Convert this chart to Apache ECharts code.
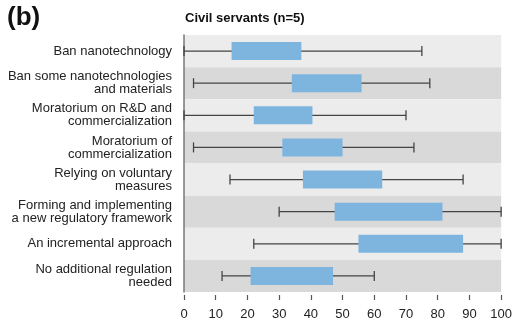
<!DOCTYPE html>
<html>
<head>
<meta charset="utf-8">
<script src="https://cdn.jsdelivr.net/npm/echarts@6/dist/echarts.min.js"></script>
<style>html,body{margin:0;padding:0;background:#fff}#c{width:515px;height:325px}</style>
</head>
<body>
<div id="c"></div>
<script>
var categories = [
  "Ban nanotechnology",
  "Ban some nanotechnologies\nand materials",
  "Moratorium on R&D and\ncommercialization",
  "Moratorium of\ncommercialization",
  "Relying on voluntary\nmeasures",
  "Forming and implementing\na new regulatory framework",
  "An incremental approach",
  "No additional regulation\nneeded"
];
var minValues = [0, 3, 0, 3, 14.5, 30, 22, 12];
var q1Values  = [15, 34, 22, 31, 37.5, 47.5, 55, 21];
var q3Values  = [37, 56, 40.5, 50, 62.5, 81.5, 88, 47];
var maxValues = [75, 77.5, 70, 72.5, 88, 100, 100, 60];
var xTicks = [0, 10, 20, 30, 40, 50, 60, 70, 80, 90, 100];

var data = categories.map(function (c, i) {
  return [i, minValues[i], q1Values[i], q3Values[i], maxValues[i]];
});

var chart = echarts.init(document.getElementById('c'));
chart.setOption({
  animation: false,
  backgroundColor: '#fff',
  textStyle: { fontFamily: 'Liberation Sans, Arial, sans-serif' },
  graphic: [
    { type: 'text', left: 7, top: 5, style: { text: '(b)', font: 'bold 26px Liberation Sans, Arial, sans-serif', fill: '#111' } },
    { type: 'text', left: 185, top: 12, style: { text: 'Civil servants (n=5)', font: 'bold 13px Liberation Sans, Arial, sans-serif', fill: '#111' } }
  ],
  grid: { left: 184, right: 13, top: 35, bottom: 33, containLabel: false },
  xAxis: {
    type: 'value', min: 0, max: 100, interval: 10,
    offset: 3,
    axisLine: { show: false },
    axisTick: { show: true, length: 5, lineStyle: { color: '#555', width: 1.2 } },
    axisLabel: { color: '#222', fontSize: 13, margin: 13, formatter: function (v) { return xTicks.indexOf(v) >= 0 ? String(v) : ''; } },
    splitLine: { show: false }
  },
  yAxis: {
    type: 'category', data: categories, inverse: true,
    axisLine: { show: true, lineStyle: { color: '#777', width: 1.5 } },
    axisTick: { show: false },
    axisLabel: { color: '#222', fontSize: 13, lineHeight: 13, margin: 12, align: 'right' },
    splitArea: { show: true, areaStyle: { color: ['#ececec', '#d9d9d9'] } },
    splitLine: { show: false }
  },
  series: [{
    type: 'custom',
    data: data,
    encode: { x: [1, 2, 3, 4], y: 0 },
    renderItem: function (params, api) {
      var cat = api.value(0);
      var pMin = api.coord([api.value(1), cat]);
      var pQ1 = api.coord([api.value(2), cat]);
      var pQ3 = api.coord([api.value(3), cat]);
      var pMax = api.coord([api.value(4), cat]);
      var y = pMin[1];
      var bh = 18, ch = 10;
      var ls = { stroke: '#444', lineWidth: 1.3 };
      return {
        type: 'group',
        children: [
          { type: 'line', shape: { x1: pMin[0], y1: y, x2: pMax[0], y2: y }, style: ls },
          { type: 'line', shape: { x1: pMin[0], y1: y - ch / 2, x2: pMin[0], y2: y + ch / 2 }, style: ls },
          { type: 'line', shape: { x1: pMax[0], y1: y - ch / 2, x2: pMax[0], y2: y + ch / 2 }, style: ls },
          { type: 'rect', shape: { x: pQ1[0], y: y - bh / 2, width: pQ3[0] - pQ1[0], height: bh }, style: { fill: '#7db5df' } }
        ]
      };
    }
  }]
});
</script>
</body>
</html>
